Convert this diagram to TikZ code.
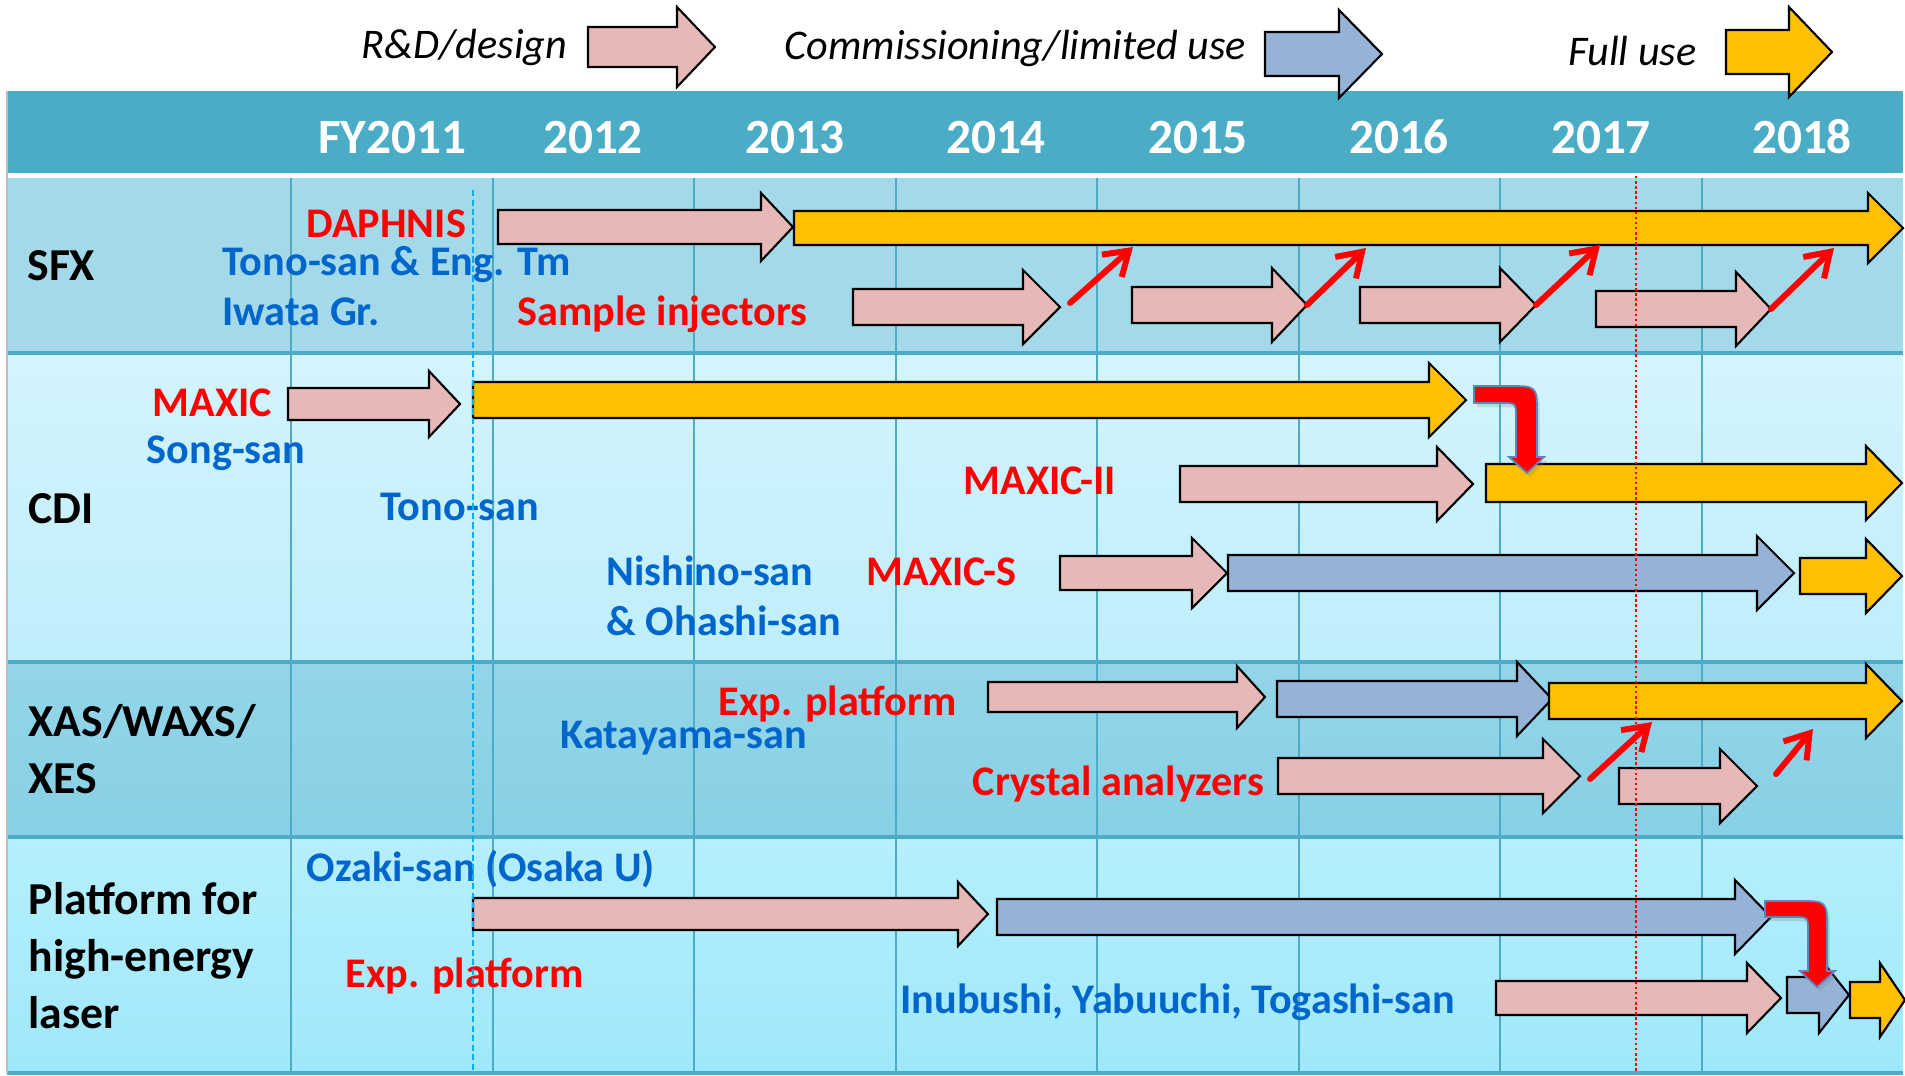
\documentclass[tikz,border=0pt]{standalone}
\usepackage{fontspec}
\setmainfont{Carlito}
\usetikzlibrary{arrows.meta,shadows}
\definecolor{PlanHead}{HTML}{4BACC6}
\definecolor{PlanGrid}{HTML}{4EABC6}
\definecolor{PlanFrame}{HTML}{BDBDBD}
\definecolor{PlanSFX}{HTML}{A3D9E8}
\definecolor{PlanCDITop}{HTML}{D3F4FD}
\definecolor{PlanCDIBot}{HTML}{BEEEFB}
\definecolor{PlanXASTop}{HTML}{93D5E8}
\definecolor{PlanXASBot}{HTML}{87D0E5}
\definecolor{PlanLaserTop}{HTML}{B6EFFD}
\definecolor{PlanLaserBot}{HTML}{9EE8FB}
\definecolor{PlanPink}{HTML}{E6B9B8}
\definecolor{PlanBlue}{HTML}{95B3D7}
\definecolor{PlanGold}{HTML}{FFC000}
\definecolor{PlanRed}{HTML}{FF0000}
\definecolor{PlanName}{HTML}{0066CC}
\definecolor{PlanDash}{HTML}{00B0F0}
\definecolor{PlanEdge}{HTML}{5B87C0}
\tikzset{
  plan year/.style={font=\bfseries\fontsize{14}{17}\selectfont, text=white, anchor=base, inner sep=0pt},
  plan row/.style={font=\bfseries\fontsize{13}{16.2}\selectfont, anchor=base west, align=left, inner sep=0pt},
  plan name/.style={font=\bfseries\fontsize{12}{14}\selectfont, text=PlanName, anchor=base west, inner sep=0pt},
  plan item/.style={plan name, text=PlanRed},
  plan legend/.style={font=\itshape\fontsize{12}{14}\selectfont, anchor=base west, inner sep=0pt},
  plan grid/.style={draw=PlanGrid, line width=.6pt},
  plan rule/.style={draw=PlanGrid, line width=.9pt},
  plan rd/.style={draw=black, line width=.6pt, fill=PlanPink},
  plan comm/.style={draw=black, line width=.6pt, fill=PlanBlue},
  plan full/.style={draw=black, line width=.6pt, fill=PlanGold},
  plan link/.style={draw=PlanRed, line width=1.7pt, line cap=round,
    -{Straight Barb[length=6.5pt,width=8.5pt]}},
  plan turn/.style={fill=PlanRed, draw=PlanEdge, line width=.5pt,
    drop shadow={opacity=.25, shadow xshift=.8pt, shadow yshift=-1.2pt}},
  plan start/.style={draw=PlanDash, line width=.75pt, dash pattern=on 1.8pt off .9pt},
  plan now/.style={draw=PlanRed, line width=.75pt, dash pattern=on .7pt off .75pt},
}
% block arrow: style, tip name, x start, x head, x tip, y axis, half body, half head
\newcommand{\planarrow}[8]{%
  \draw[#1] (#3,{#6-#7}) -- (#4,{#6-#7}) -- (#4,{#6-#8}) -- (#5,#6)
    -- (#4,{#6+#8}) -- (#4,{#6+#7}) -- (#3,{#6+#7}) -- cycle;
  \coordinate (#2) at (#5,#6);}

\begin{document}
\begin{tikzpicture}[x=.01cm,y=-.01cm]
  \useasboundingbox (0,0) rectangle (1905,1075);

  % Table body: one band per activity, header band on top.
  \fill[PlanSFX] (7,178) rectangle (1903,353);
  \shade[top color=PlanCDITop, bottom color=PlanCDIBot] (7,353) rectangle (1903,662);
  \shade[top color=PlanXASTop, bottom color=PlanXASBot] (7,662) rectangle (1903,837);
  \shade[top color=PlanLaserTop, bottom color=PlanLaserBot] (7,837) rectangle (1903,1073);
  \fill[PlanHead] (7,91) rectangle (1903,173);

  \draw[plan grid] (291,178) -- (291,1073) (493,178) -- (493,1073) (694,178) -- (694,1073)
    (896,178) -- (896,1073) (1097,178) -- (1097,1073) (1299,178) -- (1299,1073)
    (1500,178) -- (1500,1073) (1702,178) -- (1702,1073);
  \draw[plan rule] (7,353) -- (1903,353) (7,662) -- (1903,662) (7,837) -- (1903,837)
    (7,1073) -- (1903,1073);
  \draw[PlanFrame, line width=.6pt] (7,91) -- (7,1073);

  \node[plan year] (y2011) at (392,153) {FY2011};
  \node[plan year] (y2012) at (593,153) {2012};
  \node[plan year] (y2013) at (795,153) {2013};
  \node[plan year] (y2014) at (996,153) {2014};
  \node[plan year] (y2015) at (1198,153) {2015};
  \node[plan year] (y2016) at (1399,153) {2016};
  \node[plan year] (y2017) at (1601,153) {2017};
  \node[plan year] (y2018) at (1802,153) {2018};

  % Legend above the header.
  \node[plan legend] (lgRD) at (361,58) {R\&D/design};
  \planarrow{plan rd}{lgRDtip}{588}{677}{715}{47}{20}{40}
  \node[plan legend] (lgComm) at (784,59) {Commissioning/limited use};
  \planarrow{plan comm}{lgCommtip}{1265}{1339}{1382}{54}{22}{44}
  \node[plan legend] (lgFull) at (1568,65) {Full use};
  \planarrow{plan full}{lgFulltip}{1726}{1789}{1832}{52}{22}{45}

  % SFX
  \node[plan row] (rowSFX) at (27,280) {SFX};
  \node[plan item] (daphnis) at (306,237) {DAPHNIS};
  \node[plan name] (tonoEng) at (222,275) {Tono-san \& Eng. Tm};
  \node[plan name] (iwata) at (222,325) {Iwata Gr.};
  \node[plan item] (injectors) at (517,325) {Sample injectors};
  \planarrow{plan rd}{daphnisTip}{498}{761}{793}{227}{17}{34}
  \planarrow{plan full}{sfxTip}{794}{1868}{1903}{228}{17}{35}
  \planarrow{plan rd}{inj1}{853}{1023}{1060}{307}{18}{37}
  \planarrow{plan rd}{inj2}{1132}{1272}{1307}{305}{18}{37}
  \planarrow{plan rd}{inj3}{1360}{1500}{1536}{305}{18}{37}
  \planarrow{plan rd}{inj4}{1596}{1736}{1771}{309}{18}{37}
  \coordinate (sfxFrom1) at (1070,303);
  \coordinate (sfxUp1) at (1133,247);
  \coordinate (sfxUp2) at (1366,248);
  \coordinate (sfxUp3) at (1600,245);
  \coordinate (sfxUp4) at (1834,248);
  \draw[plan link] (sfxFrom1) -- (sfxUp1);
  \draw[plan link] (inj2) -- (sfxUp2);
  \draw[plan link] (inj3) -- (sfxUp3);
  \draw[plan link] (inj4) -- (sfxUp4);

  % CDI
  \node[plan row] (rowCDI) at (28,523) {CDI};
  \node[plan item] (maxic) at (152,416) {MAXIC};
  \node[plan name] (song) at (146,463) {Song-san};
  \node[plan name] (tono) at (380,520) {Tono-san};
  \node[plan item] (maxicII) at (963,494) {MAXIC-II};
  \node[plan name, align=left, font=\bfseries\fontsize{12}{14.2}\selectfont] (nishino) at (606,635)
    {Nishino-san\\\& Ohashi-san};
  \node[plan item] (maxicS) at (866,585) {MAXIC-S};
  \planarrow{plan rd}{maxicTip}{288}{429}{460}{404}{16}{33}
  \planarrow{plan full}{cdiTip}{473}{1429}{1466}{400}{18}{37}
  \planarrow{plan rd}{maxicIITip}{1180}{1437}{1473}{484}{18}{37}
  \planarrow{plan full}{cdiIITip}{1486}{1866}{1902}{483}{19}{37}
  \planarrow{plan rd}{maxicSTip}{1060}{1192}{1227}{573}{17}{35}
  \planarrow{plan comm}{maxicSComm}{1228}{1757}{1794}{573}{18}{37}
  \planarrow{plan full}{maxicSFull}{1800}{1866}{1902}{576}{18}{37}
  \draw[plan turn] (1474,386) -- (1509,386) .. controls (1537,386) .. (1537,414) -- (1537,457)
    -- (1544,457) -- (1527,473) -- (1509,457) -- (1516,457) -- (1516,417)
    .. controls (1516,403) .. (1502,403) -- (1474,403) -- cycle;

  % XAS/WAXS/XES
  \node[plan row] (rowXAS) at (28,793) {XAS/WAXS/\\XES};
  \node[plan item] (expXAS) at (718,715) {Exp. platform};
  \node[plan name] (katayama) at (560,748) {Katayama-san};
  \node[plan item] (crystal) at (972,795) {Crystal analyzers};
  \planarrow{plan rd}{xasRD}{988}{1237}{1265}{697}{15}{31}
  \planarrow{plan comm}{xasComm}{1277}{1517}{1552}{699}{18}{37}
  \planarrow{plan full}{xasFull}{1549}{1866}{1902}{701}{18}{37}
  \planarrow{plan rd}{crystal1}{1278}{1543}{1580}{776}{18}{37}
  \planarrow{plan rd}{crystal2}{1619}{1720}{1757}{786}{18}{37}
  \coordinate (xasFrom1) at (1590,779);
  \coordinate (xasFrom2) at (1776,774);
  \coordinate (xasUp1) at (1652,722);
  \coordinate (xasUp2) at (1813,729);
  \draw[plan link] (xasFrom1) -- (xasUp1);
  \draw[plan link] (xasFrom2) -- (xasUp2);

  % Platform for high-energy laser
  \node[plan row] (rowLaser) at (28,1028) {Platform for\\high-energy\\laser};
  \node[plan name] (ozaki) at (306,881) {Ozaki-san (Osaka U)};
  \node[plan item] (expLaser) at (345,987) {Exp. platform};
  \node[plan name] (inubushi) at (900,1013) {Inubushi, Yabuuchi, Togashi-san};
  \planarrow{plan rd}{laserRD}{473}{958}{988}{914}{16}{32}
  \planarrow{plan comm}{laserComm}{997}{1735}{1771}{917}{18}{37}
  \planarrow{plan rd}{lineRD}{1496}{1747}{1781}{998}{17}{35}
  \planarrow{plan comm}{lineComm}{1787}{1819}{1849}{995}{18}{38}
  \planarrow{plan full}{lineFull}{1850}{1880}{1905}{1000}{18}{37}
  \draw[plan turn] (1765,901) -- (1799,901) .. controls (1827,901) .. (1827,929) -- (1827,971)
    -- (1835,971) -- (1817,987) -- (1800,971) -- (1808,971) -- (1808,931)
    .. controls (1808,917) .. (1794,917) -- (1765,917) -- cycle;

  % start of FY2012 and the present date
  \draw[plan start] (473,190) -- (473,1073);
  \draw[plan now] (1636,176) -- (1636,1073);
\end{tikzpicture}
\end{document}
